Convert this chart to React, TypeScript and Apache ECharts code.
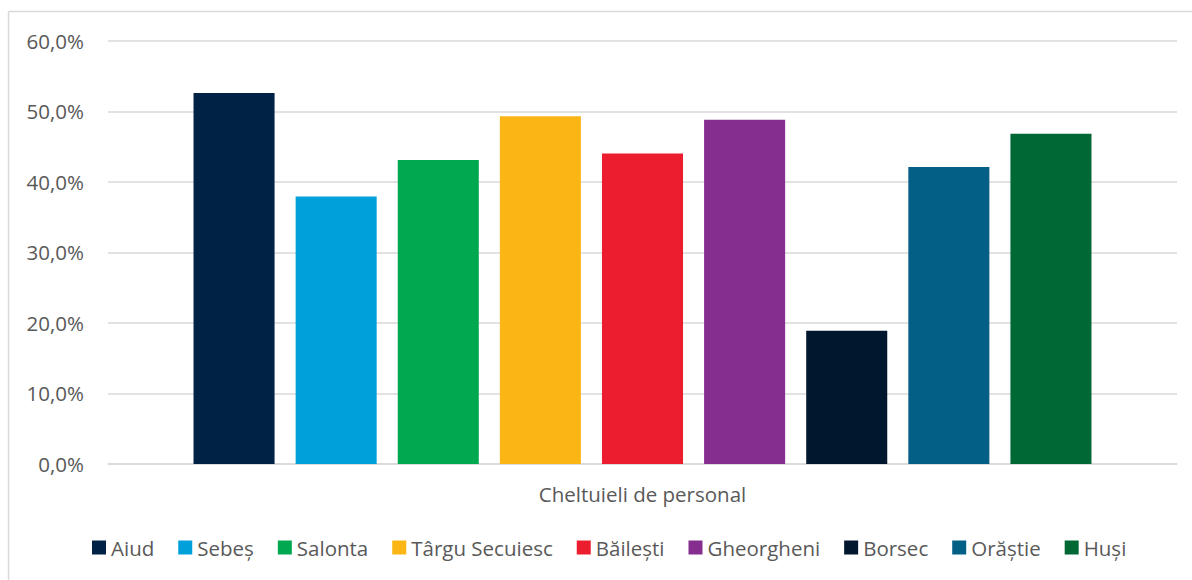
import React, { useEffect, useRef } from "react";
import * as echarts from "echarts";

const categories = ["Cheltuieli de personal"];
const seriesNames = ["Aiud", "Sebeș", "Salonta", "Târgu Secuiesc", "Băilești", "Gheorgheni", "Borsec", "Orăștie", "Huși"];
const seriesValues = [52.6, 37.9, 43.1, 49.3, 44.0, 48.8, 18.9, 42.1, 46.8];
const seriesColors = ["#002345", "#00A0DA", "#00A94F", "#FBB615", "#EC1D2E", "#862D90", "#00172E", "#035F86", "#006834"];
const yTicks = { min: 0, max: 60, interval: 10 };

const FONT = "'Open Sans', sans-serif";
const TEXT = "#595959";
const FS = 20.5;

export default function App() {
  const ref = useRef<HTMLDivElement>(null);
  useEffect(() => {
    if (!ref.current) return;
    const chart = echarts.init(ref.current, null, { renderer: "svg" });
    chart.setOption({
      animation: false,
      backgroundColor: "#ffffff",
      textStyle: { fontFamily: FONT },
      grid: { left: 108, right: 15, top: 40.7, bottom: 116, containLabel: false },
      legend: {
        left: 92,
        top: 537,
        padding: 0,
        itemWidth: 14,
        itemHeight: 14,
        itemGap: 24,
        icon: "rect",
        textStyle: { color: TEXT, fontSize: FS, fontFamily: FONT, padding: [0, 0, 0, 0] },
        data: seriesNames,
      },
      xAxis: {
        type: "category",
        data: categories,
        axisLine: { lineStyle: { color: "#D9D9D9", width: 1.5 } },
        axisTick: { show: false },
        axisLabel: { color: TEXT, fontSize: FS, margin: 19, fontFamily: FONT },
      },
      yAxis: {
        type: "value",
        min: yTicks.min,
        max: yTicks.max,
        interval: yTicks.interval,
        axisLine: { show: false },
        axisTick: { show: false },
        splitLine: { lineStyle: { color: "#D9D9D9", width: 1.5 } },
        axisLabel: {
          color: TEXT,
          fontSize: FS,
          margin: 24,
          fontFamily: FONT,
          formatter: (v: number) => v.toFixed(1).replace(".", ",") + "%",
        },
      },
      graphic: [
        { type: "line", shape: { x1: 8.5, y1: 11.5, x2: 1192, y2: 11.5 }, style: { stroke: "#D9D9D9", lineWidth: 1.5 } },
        { type: "line", shape: { x1: 8.5, y1: 11.5, x2: 8.5, y2: 580 }, style: { stroke: "#D9D9D9", lineWidth: 1.5 } },
      ],
      series: seriesNames.map((name, i) => ({
        name,
        type: "bar",
        data: [seriesValues[i]],
        itemStyle: { color: seriesColors[i] },
        barCategoryGap: "16%",
        barGap: "26%",
      })),
    });
    return () => chart.dispose();
  }, []);
  return <div ref={ref} style={{ position: "absolute", left: 0, top: 0, width: 1192, height: 580 }} />;
}
